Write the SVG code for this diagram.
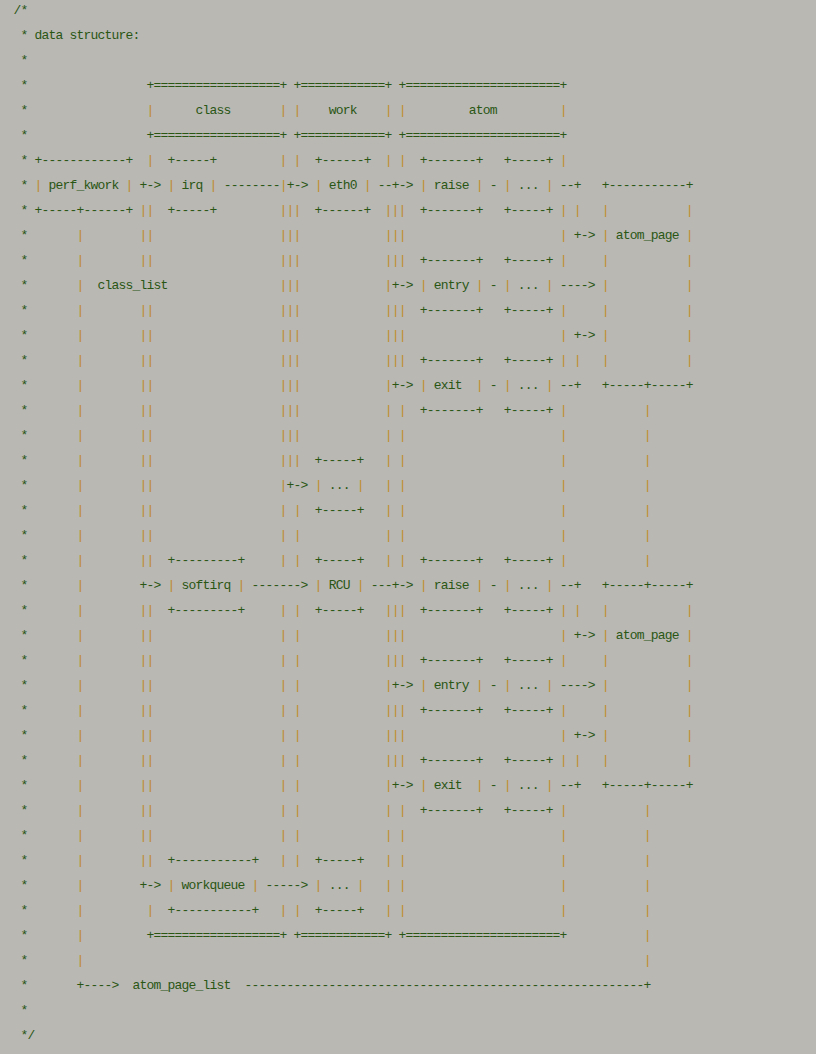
<svg xmlns="http://www.w3.org/2000/svg" width="816" height="1054" viewBox="0 0 816 1054">
<style>
text{font-family:"Liberation Mono","DejaVu Sans Mono",monospace;font-size:13px;letter-spacing:-0.8px;fill:#2a5614;white-space:pre}
.p{fill:#c08c28}
</style>
<rect width="816" height="1054" fill="#b9b8b3"/>
<g id="code" xml:space="preserve">
<text x="13.5" y="14">/*</text>
<text x="13.5" y="39"> * data structure:</text>
<text x="13.5" y="64"> *</text>
<text x="13.5" y="89"> *                 +==================+ +============+ +======================+</text>
<text x="13.5" y="114"> *                 <tspan class="p">|</tspan>      class       <tspan class="p">|</tspan> <tspan class="p">|</tspan>    work    <tspan class="p">|</tspan> <tspan class="p">|</tspan>         atom         <tspan class="p">|</tspan></text>
<text x="13.5" y="139"> *                 +==================+ +============+ +======================+</text>
<text x="13.5" y="164"> * +------------+  <tspan class="p">|</tspan>  +-----+         <tspan class="p">|</tspan> <tspan class="p">|</tspan>  +------+  <tspan class="p">|</tspan> <tspan class="p">|</tspan>  +-------+   +-----+ <tspan class="p">|</tspan></text>
<text x="13.5" y="189"> * <tspan class="p">|</tspan> perf_kwork <tspan class="p">|</tspan> +-> <tspan class="p">|</tspan> irq <tspan class="p">|</tspan> --------<tspan class="p">|</tspan>+-> <tspan class="p">|</tspan> eth0 <tspan class="p">|</tspan> --+-> <tspan class="p">|</tspan> raise <tspan class="p">|</tspan> - <tspan class="p">|</tspan> ... <tspan class="p">|</tspan> --+   +-----------+</text>
<text x="13.5" y="214"> * +-----+------+ <tspan class="p">||</tspan>  +-----+         <tspan class="p">|||</tspan>  +------+  <tspan class="p">|||</tspan>  +-------+   +-----+ <tspan class="p">|</tspan> <tspan class="p">|</tspan>   <tspan class="p">|</tspan>           <tspan class="p">|</tspan></text>
<text x="13.5" y="239"> *       <tspan class="p">|</tspan>        <tspan class="p">||</tspan>                  <tspan class="p">|||</tspan>            <tspan class="p">|||</tspan>                      <tspan class="p">|</tspan> +-> <tspan class="p">|</tspan> atom_page <tspan class="p">|</tspan></text>
<text x="13.5" y="264"> *       <tspan class="p">|</tspan>        <tspan class="p">||</tspan>                  <tspan class="p">|||</tspan>            <tspan class="p">|||</tspan>  +-------+   +-----+ <tspan class="p">|</tspan>     <tspan class="p">|</tspan>           <tspan class="p">|</tspan></text>
<text x="13.5" y="289"> *       <tspan class="p">|</tspan>  class_list                <tspan class="p">|||</tspan>            <tspan class="p">|</tspan>+-> <tspan class="p">|</tspan> entry <tspan class="p">|</tspan> - <tspan class="p">|</tspan> ... <tspan class="p">|</tspan> ----> <tspan class="p">|</tspan>           <tspan class="p">|</tspan></text>
<text x="13.5" y="314"> *       <tspan class="p">|</tspan>        <tspan class="p">||</tspan>                  <tspan class="p">|||</tspan>            <tspan class="p">|||</tspan>  +-------+   +-----+ <tspan class="p">|</tspan>     <tspan class="p">|</tspan>           <tspan class="p">|</tspan></text>
<text x="13.5" y="339"> *       <tspan class="p">|</tspan>        <tspan class="p">||</tspan>                  <tspan class="p">|||</tspan>            <tspan class="p">|||</tspan>                      <tspan class="p">|</tspan> +-> <tspan class="p">|</tspan>           <tspan class="p">|</tspan></text>
<text x="13.5" y="364"> *       <tspan class="p">|</tspan>        <tspan class="p">||</tspan>                  <tspan class="p">|||</tspan>            <tspan class="p">|||</tspan>  +-------+   +-----+ <tspan class="p">|</tspan> <tspan class="p">|</tspan>   <tspan class="p">|</tspan>           <tspan class="p">|</tspan></text>
<text x="13.5" y="389"> *       <tspan class="p">|</tspan>        <tspan class="p">||</tspan>                  <tspan class="p">|||</tspan>            <tspan class="p">|</tspan>+-> <tspan class="p">|</tspan> exit  <tspan class="p">|</tspan> - <tspan class="p">|</tspan> ... <tspan class="p">|</tspan> --+   +-----+-----+</text>
<text x="13.5" y="414"> *       <tspan class="p">|</tspan>        <tspan class="p">||</tspan>                  <tspan class="p">|||</tspan>            <tspan class="p">|</tspan> <tspan class="p">|</tspan>  +-------+   +-----+ <tspan class="p">|</tspan>           <tspan class="p">|</tspan></text>
<text x="13.5" y="439"> *       <tspan class="p">|</tspan>        <tspan class="p">||</tspan>                  <tspan class="p">|||</tspan>            <tspan class="p">|</tspan> <tspan class="p">|</tspan>                      <tspan class="p">|</tspan>           <tspan class="p">|</tspan></text>
<text x="13.5" y="464"> *       <tspan class="p">|</tspan>        <tspan class="p">||</tspan>                  <tspan class="p">|||</tspan>  +-----+   <tspan class="p">|</tspan> <tspan class="p">|</tspan>                      <tspan class="p">|</tspan>           <tspan class="p">|</tspan></text>
<text x="13.5" y="489"> *       <tspan class="p">|</tspan>        <tspan class="p">||</tspan>                  <tspan class="p">|</tspan>+-> <tspan class="p">|</tspan> ... <tspan class="p">|</tspan>   <tspan class="p">|</tspan> <tspan class="p">|</tspan>                      <tspan class="p">|</tspan>           <tspan class="p">|</tspan></text>
<text x="13.5" y="514"> *       <tspan class="p">|</tspan>        <tspan class="p">||</tspan>                  <tspan class="p">|</tspan> <tspan class="p">|</tspan>  +-----+   <tspan class="p">|</tspan> <tspan class="p">|</tspan>                      <tspan class="p">|</tspan>           <tspan class="p">|</tspan></text>
<text x="13.5" y="539"> *       <tspan class="p">|</tspan>        <tspan class="p">||</tspan>                  <tspan class="p">|</tspan> <tspan class="p">|</tspan>            <tspan class="p">|</tspan> <tspan class="p">|</tspan>                      <tspan class="p">|</tspan>           <tspan class="p">|</tspan></text>
<text x="13.5" y="564"> *       <tspan class="p">|</tspan>        <tspan class="p">||</tspan>  +---------+     <tspan class="p">|</tspan> <tspan class="p">|</tspan>  +-----+   <tspan class="p">|</tspan> <tspan class="p">|</tspan>  +-------+   +-----+ <tspan class="p">|</tspan>           <tspan class="p">|</tspan></text>
<text x="13.5" y="589"> *       <tspan class="p">|</tspan>        +-> <tspan class="p">|</tspan> softirq <tspan class="p">|</tspan> -------> <tspan class="p">|</tspan> RCU <tspan class="p">|</tspan> ---+-> <tspan class="p">|</tspan> raise <tspan class="p">|</tspan> - <tspan class="p">|</tspan> ... <tspan class="p">|</tspan> --+   +-----+-----+</text>
<text x="13.5" y="614"> *       <tspan class="p">|</tspan>        <tspan class="p">||</tspan>  +---------+     <tspan class="p">|</tspan> <tspan class="p">|</tspan>  +-----+   <tspan class="p">|||</tspan>  +-------+   +-----+ <tspan class="p">|</tspan> <tspan class="p">|</tspan>   <tspan class="p">|</tspan>           <tspan class="p">|</tspan></text>
<text x="13.5" y="639"> *       <tspan class="p">|</tspan>        <tspan class="p">||</tspan>                  <tspan class="p">|</tspan> <tspan class="p">|</tspan>            <tspan class="p">|||</tspan>                      <tspan class="p">|</tspan> +-> <tspan class="p">|</tspan> atom_page <tspan class="p">|</tspan></text>
<text x="13.5" y="664"> *       <tspan class="p">|</tspan>        <tspan class="p">||</tspan>                  <tspan class="p">|</tspan> <tspan class="p">|</tspan>            <tspan class="p">|||</tspan>  +-------+   +-----+ <tspan class="p">|</tspan>     <tspan class="p">|</tspan>           <tspan class="p">|</tspan></text>
<text x="13.5" y="689"> *       <tspan class="p">|</tspan>        <tspan class="p">||</tspan>                  <tspan class="p">|</tspan> <tspan class="p">|</tspan>            <tspan class="p">|</tspan>+-> <tspan class="p">|</tspan> entry <tspan class="p">|</tspan> - <tspan class="p">|</tspan> ... <tspan class="p">|</tspan> ----> <tspan class="p">|</tspan>           <tspan class="p">|</tspan></text>
<text x="13.5" y="714"> *       <tspan class="p">|</tspan>        <tspan class="p">||</tspan>                  <tspan class="p">|</tspan> <tspan class="p">|</tspan>            <tspan class="p">|||</tspan>  +-------+   +-----+ <tspan class="p">|</tspan>     <tspan class="p">|</tspan>           <tspan class="p">|</tspan></text>
<text x="13.5" y="739"> *       <tspan class="p">|</tspan>        <tspan class="p">||</tspan>                  <tspan class="p">|</tspan> <tspan class="p">|</tspan>            <tspan class="p">|||</tspan>                      <tspan class="p">|</tspan> +-> <tspan class="p">|</tspan>           <tspan class="p">|</tspan></text>
<text x="13.5" y="764"> *       <tspan class="p">|</tspan>        <tspan class="p">||</tspan>                  <tspan class="p">|</tspan> <tspan class="p">|</tspan>            <tspan class="p">|||</tspan>  +-------+   +-----+ <tspan class="p">|</tspan> <tspan class="p">|</tspan>   <tspan class="p">|</tspan>           <tspan class="p">|</tspan></text>
<text x="13.5" y="789"> *       <tspan class="p">|</tspan>        <tspan class="p">||</tspan>                  <tspan class="p">|</tspan> <tspan class="p">|</tspan>            <tspan class="p">|</tspan>+-> <tspan class="p">|</tspan> exit  <tspan class="p">|</tspan> - <tspan class="p">|</tspan> ... <tspan class="p">|</tspan> --+   +-----+-----+</text>
<text x="13.5" y="814"> *       <tspan class="p">|</tspan>        <tspan class="p">||</tspan>                  <tspan class="p">|</tspan> <tspan class="p">|</tspan>            <tspan class="p">|</tspan> <tspan class="p">|</tspan>  +-------+   +-----+ <tspan class="p">|</tspan>           <tspan class="p">|</tspan></text>
<text x="13.5" y="839"> *       <tspan class="p">|</tspan>        <tspan class="p">||</tspan>                  <tspan class="p">|</tspan> <tspan class="p">|</tspan>            <tspan class="p">|</tspan> <tspan class="p">|</tspan>                      <tspan class="p">|</tspan>           <tspan class="p">|</tspan></text>
<text x="13.5" y="864"> *       <tspan class="p">|</tspan>        <tspan class="p">||</tspan>  +-----------+   <tspan class="p">|</tspan> <tspan class="p">|</tspan>  +-----+   <tspan class="p">|</tspan> <tspan class="p">|</tspan>                      <tspan class="p">|</tspan>           <tspan class="p">|</tspan></text>
<text x="13.5" y="889"> *       <tspan class="p">|</tspan>        +-> <tspan class="p">|</tspan> workqueue <tspan class="p">|</tspan> -----> <tspan class="p">|</tspan> ... <tspan class="p">|</tspan>   <tspan class="p">|</tspan> <tspan class="p">|</tspan>                      <tspan class="p">|</tspan>           <tspan class="p">|</tspan></text>
<text x="13.5" y="914"> *       <tspan class="p">|</tspan>         <tspan class="p">|</tspan>  +-----------+   <tspan class="p">|</tspan> <tspan class="p">|</tspan>  +-----+   <tspan class="p">|</tspan> <tspan class="p">|</tspan>                      <tspan class="p">|</tspan>           <tspan class="p">|</tspan></text>
<text x="13.5" y="939"> *       <tspan class="p">|</tspan>         +==================+ +============+ +======================+           <tspan class="p">|</tspan></text>
<text x="13.5" y="964"> *       <tspan class="p">|</tspan>                                                                                <tspan class="p">|</tspan></text>
<text x="13.5" y="989"> *       +---->  atom_page_list  ---------------------------------------------------------+</text>
<text x="13.5" y="1014"> *</text>
<text x="13.5" y="1039"> */</text>
</g>
</svg>
